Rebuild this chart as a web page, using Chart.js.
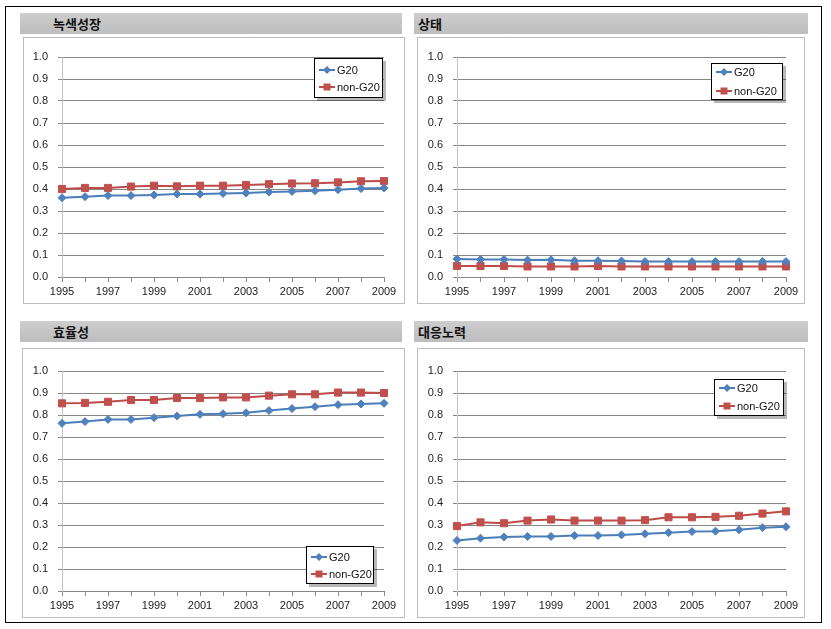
<!DOCTYPE html>
<html>
<head>
<meta charset="utf-8">
<script src="https://cdn.jsdelivr.net/npm/chart.js"></script>
<style>
  html, body { margin: 0; padding: 0; background: #fff; }
  body { width: 831px; height: 629px; position: relative; overflow: hidden; }
  #outer { position: absolute; left: 5px; top: 6px; width: 817px; height: 617px; border: 1px solid #000; box-sizing: border-box; }
  .hdr { position: absolute; height: 21px; background: linear-gradient(#cdcdcd, #bdbdbd); box-sizing: border-box;
         font-family: "Noto Sans CJK KR", sans-serif; font-weight: bold; font-size: 13px; line-height: 21px; color: #111; }
  .frame { position: absolute; border: 1px solid #bcbcbc; box-sizing: border-box; background: #fff; }
  .frame canvas { position: absolute; left: -1px; top: -1px; }
</style>
</head>
<body>
<div id="outer"></div>
<script>
// ---------------- data ----------------
const years = ['1995','1996','1997','1998','1999','2000','2001','2002','2003','2004','2005','2006','2007','2008','2009'];
const seriesNames = ['G20', 'non-G20'];
const panelTitles = ['녹색성장', '상태', '효율성', '대응노력'];

const greenGrowthG20    = [0.360,0.365,0.370,0.370,0.373,0.377,0.377,0.380,0.382,0.386,0.389,0.392,0.397,0.402,0.404];
const greenGrowthNonG20 = [0.400,0.405,0.405,0.411,0.415,0.412,0.415,0.415,0.418,0.422,0.425,0.426,0.430,0.435,0.436];

const statusG20    = [0.082,0.080,0.080,0.077,0.078,0.074,0.074,0.073,0.070,0.070,0.070,0.070,0.070,0.070,0.070];
const statusNonG20 = [0.050,0.050,0.050,0.048,0.048,0.048,0.050,0.048,0.048,0.048,0.048,0.048,0.048,0.048,0.048];

const efficiencyG20    = [0.762,0.770,0.780,0.780,0.788,0.795,0.803,0.806,0.810,0.820,0.829,0.838,0.847,0.850,0.853];
const efficiencyNonG20 = [0.853,0.855,0.860,0.868,0.868,0.877,0.877,0.880,0.880,0.888,0.894,0.894,0.902,0.902,0.900];

const responseG20    = [0.230,0.240,0.245,0.248,0.248,0.252,0.252,0.255,0.260,0.265,0.270,0.272,0.278,0.288,0.292];
const responseNonG20 = [0.295,0.312,0.308,0.320,0.325,0.320,0.320,0.320,0.322,0.335,0.335,0.337,0.342,0.352,0.362];

// ---------------- layout (page px) ----------------
const panels = [
  { title: panelTitles[0], g20: greenGrowthG20, non: greenGrowthNonG20,
    hdr: {x: 20, y: 13, w: 382, pad: 33}, frame: {x: 23, y: 37, w: 382, h: 267}, plot: {l: 62, t: 57, r: 384, b: 277},
    legend: {x: 313, y: 57, w: 69, h: 40, rows: [12, 29]} },
  { title: panelTitles[1], g20: statusG20, non: statusNonG20,
    hdr: {x: 414, y: 13, w: 394, pad: 4}, frame: {x: 417, y: 37, w: 388, h: 267}, plot: {l: 457, t: 57, r: 786, b: 277},
    legend: {x: 710, y: 62, w: 72, h: 37, rows: [9, 28]} },
  { title: panelTitles[2], g20: efficiencyG20, non: efficiencyNonG20,
    hdr: {x: 20, y: 321, w: 382, pad: 33}, frame: {x: 22, y: 348, w: 383, h: 270}, plot: {l: 62, t: 371, r: 384, b: 591},
    legend: {x: 305, y: 545, w: 68, h: 38, rows: [11, 28]} },
  { title: panelTitles[3], g20: responseG20, non: responseNonG20,
    hdr: {x: 414, y: 321, w: 394, pad: 4}, frame: {x: 417, y: 348, w: 388, h: 270}, plot: {l: 457, t: 371, r: 786, b: 591},
    legend: {x: 713, y: 378, w: 70, h: 37, rows: [9, 27]} }
];

const BLUE = '#4A7EBB', BLUE_M = '#4F81BD';
const RED = '#BE4B48', RED_M = '#C0504D';
const TICK_FONT = { family: '"Liberation Sans", Arial, sans-serif', size: 11 };

function drawMarker(ctx, style, x, y, color) {
  ctx.fillStyle = color; ctx.strokeStyle = color; ctx.lineWidth = 1;
  ctx.beginPath();
  if (style === 'rectRot') {
    ctx.moveTo(x, y - 4); ctx.lineTo(x + 4, y); ctx.lineTo(x, y + 4); ctx.lineTo(x - 4, y); ctx.closePath();
  } else {
    ctx.rect(x - 3.5, y - 3.5, 7, 7);
  }
  ctx.fill();
}

const boxLegend = {
  id: 'boxLegend',
  afterDraw(chart, args, opts) {
    const ctx = chart.ctx;
    const L = opts.box;
    ctx.save();
    ctx.fillStyle = 'rgba(0,0,0,0.28)';
    ctx.fillRect(L.x + 3, L.y + 3, L.w, L.h);
    ctx.fillStyle = '#fff';
    ctx.fillRect(L.x, L.y, L.w, L.h);
    ctx.strokeStyle = '#000'; ctx.lineWidth = 1;
    ctx.strokeRect(L.x + 0.5, L.y + 0.5, L.w - 1, L.h - 1);
    chart.data.datasets.forEach((ds, i) => {
      const cy = L.y + L.rows[i];
      ctx.strokeStyle = ds.borderColor; ctx.lineWidth = 2;
      ctx.beginPath(); ctx.moveTo(L.x + 5, cy); ctx.lineTo(L.x + 21, cy); ctx.stroke();
      drawMarker(ctx, ds.pointStyle, L.x + 13, cy, ds.pointBackgroundColor);
      ctx.fillStyle = '#111';
      ctx.font = '11px "Liberation Sans", Arial, sans-serif';
      ctx.textBaseline = 'middle'; ctx.textAlign = 'left';
      ctx.fillText(ds.label, L.x + 23, cy + 1);
    });
    ctx.restore();
  }
};

panels.forEach((p) => {
  const h = document.createElement('div');
  h.className = 'hdr';
  h.style.left = p.hdr.x + 'px'; h.style.top = p.hdr.y + 'px'; h.style.width = p.hdr.w + 'px';
  h.style.paddingLeft = p.hdr.pad + 'px';
  h.textContent = p.title;
  document.body.appendChild(h);

  const f = document.createElement('div');
  f.className = 'frame';
  f.style.left = p.frame.x + 'px'; f.style.top = p.frame.y + 'px';
  f.style.width = p.frame.w + 'px'; f.style.height = p.frame.h + 'px';
  document.body.appendChild(f);

  const cv = document.createElement('canvas');
  cv.width = p.frame.w; cv.height = p.frame.h;
  cv.style.width = p.frame.w + 'px'; cv.style.height = p.frame.h + 'px';
  f.appendChild(cv);

  const leftW = p.plot.l - p.frame.x;
  const topP = p.plot.t - p.frame.y;
  const rightP = p.frame.x + p.frame.w - p.plot.r;
  const bottomH = p.frame.y + p.frame.h - p.plot.b;

  new Chart(cv, {
    type: 'line',
    data: {
      labels: years,
      datasets: [
        { label: seriesNames[0], data: p.g20, borderColor: BLUE, borderWidth: 2,
          pointStyle: 'rectRot', pointRadius: 4, pointBackgroundColor: BLUE_M, pointBorderColor: BLUE_M, pointBorderWidth: 1,
          tension: 0 },
        { label: seriesNames[1], data: p.non, borderColor: RED, borderWidth: 2,
          pointStyle: 'rect', pointRadius: 5, pointBackgroundColor: RED_M, pointBorderColor: RED_M, pointBorderWidth: 1,
          tension: 0 }
      ]
    },
    options: {
      responsive: false,
      animation: false,
      devicePixelRatio: 1,
      layout: { padding: { left: 0, top: topP, right: rightP, bottom: 0 } },
      plugins: {
        legend: { display: false },
        tooltip: { enabled: false },
        boxLegend: { box: { x: p.legend.x - p.frame.x + 1, y: p.legend.y - p.frame.y + 1, w: p.legend.w, h: p.legend.h, rows: p.legend.rows } }
      },
      scales: {
        x: {
          offset: false,
          grid: { display: true, drawOnChartArea: false, drawTicks: true, tickLength: 5, color: '#8a8a8a' },
          border: { display: true, color: '#868686', width: 1 },
          ticks: { autoSkip: false, maxRotation: 0, minRotation: 0, padding: 3, color: '#222', font: TICK_FONT,
                   callback: (v, i) => (i % 2 === 0 ? years[i] : '') },
          afterFit: (s) => { s.height = bottomH; }
        },
        y: {
          min: 0, max: 1,
          grid: { color: '#868686', drawTicks: true, tickLength: 4 },
          border: { display: true, color: '#c4c4c4', width: 1 },
          ticks: { stepSize: 0.1, padding: 10, color: '#222', font: TICK_FONT, callback: (v) => Number(v).toFixed(1) },
          afterFit: (s) => { s.width = leftW; }
        }
      }
    },
    plugins: [boxLegend]
  });
});
</script>
</body>
</html>
